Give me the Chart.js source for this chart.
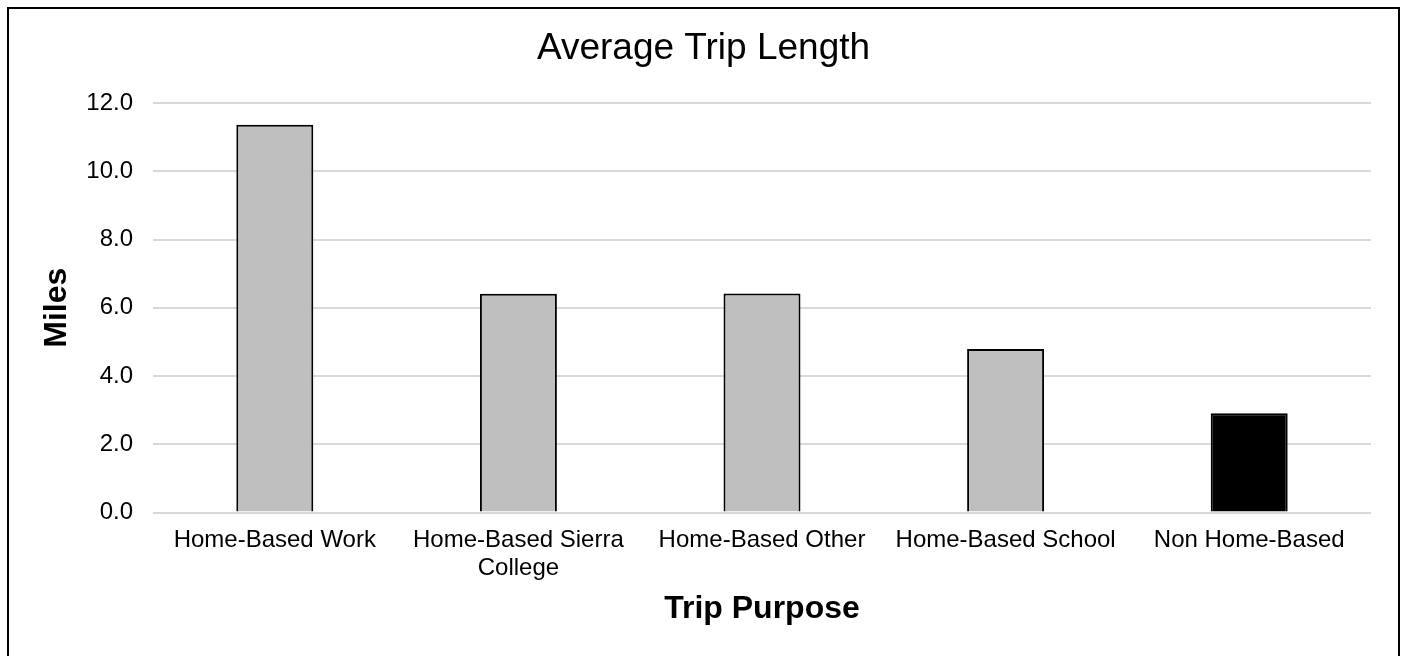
<!DOCTYPE html>
<html>
<head>
<meta charset="utf-8">
<title>Average Trip Length</title>
<script src="https://cdn.jsdelivr.net/npm/chart.js@4.4.1/dist/chart.umd.min.js"></script>
<style>
  html, body { margin: 0; padding: 0; background: #fff; }
  #wrap { position: relative; width: 1404px; height: 656px; overflow: hidden; }
  #frame {
    position: absolute; left: 7px; top: 7px; width: 1393px; height: 800px;
    box-sizing: border-box; border: 2px solid #000; pointer-events: none;
  }
</style>
</head>
<body>
<div id="wrap">
  <canvas id="chart-trip" width="1404" height="656"></canvas>
  <div id="frame"></div>
</div>
<script>
// ---- data ----
const categories = [
  'Home-Based Work',
  ['Home-Based Sierra', 'College'],
  'Home-Based Other',
  'Home-Based School',
  'Non Home-Based'
];
const avgMiles = [11.36, 6.41, 6.42, 4.79, 2.91];
const barColors = ['#BFBFBF', '#BFBFBF', '#BFBFBF', '#BFBFBF', '#000000'];
const yTicks = [0, 2, 4, 6, 8, 10, 12];

const FONT = 'Arial, "Liberation Sans", sans-serif';

const ctx = document.getElementById('chart-trip').getContext('2d');
new Chart(ctx, {
  type: 'bar',
  data: {
    labels: categories,
    datasets: [{
      data: avgMiles,
      backgroundColor: barColors,
      borderColor: '#000',
      borderWidth: 2,
      borderSkipped: 'bottom',
      barPercentage: 1,
      categoryPercentage: 0.316,
    }]
  },
  options: {
    responsive: false,
    animation: false,
    devicePixelRatio: 1,
    layout: { padding: { left: 36, right: 33, top: 0, bottom: 0 } },
    plugins: {
      legend: { display: false },
      tooltip: { enabled: false },
      title: {
        display: true,
        text: 'Average Trip Length',
        color: '#000',
        font: { family: FONT, size: 37, weight: 'normal', lineHeight: 1.2 },
        padding: { top: 27, bottom: 31.6 }
      }
    },
    scales: {
      x: {
        grid: { display: false, drawTicks: false },
        border: { display: false },
        ticks: {
          color: '#000',
          padding: 14,
          maxRotation: 0,
          autoSkip: false,
          font: { family: FONT, size: 24, lineHeight: 1.15 }
        },
        title: {
          display: true,
          text: 'Trip Purpose',
          color: '#000',
          font: { family: FONT, size: 32, weight: 'bold', lineHeight: 1.2 },
          padding: { top: 0, bottom: 28 }
        },
        afterFit: function(scale) { scale.height = 143.5; }
      },
      y: {
        min: yTicks[0],
        max: yTicks[yTicks.length - 1],
        grid: { color: '#D9D9D9', lineWidth: 2, drawTicks: false },
        border: { display: false },
        afterBuildTicks: function(scale) {
          scale.ticks = yTicks.map(v => ({ value: v }));
        },
        ticks: {
          color: '#000',
          padding: 20,
          font: { family: FONT, size: 24 },
          callback: function(value) { return Number(value).toFixed(1); }
        },
        title: {
          display: true,
          text: 'Miles',
          color: '#000',
          font: { family: FONT, size: 32, weight: 'bold', lineHeight: 1.2 },
          padding: { top: 2, bottom: 0 }
        },
        afterFit: function(scale) { scale.width = 117; }
      }
    }
  }
});
</script>
</body>
</html>
